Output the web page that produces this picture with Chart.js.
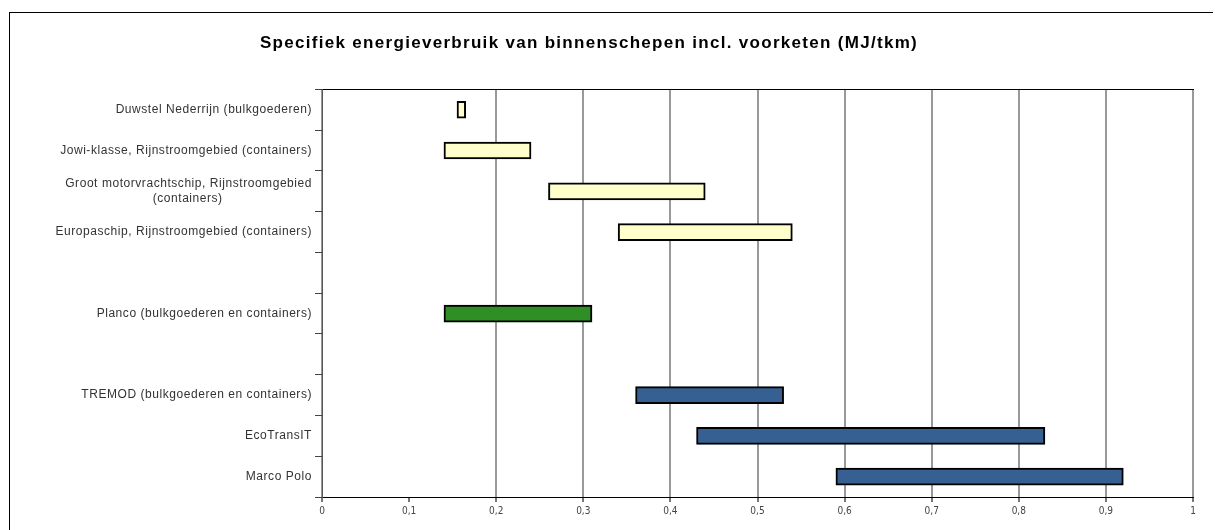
<!DOCTYPE html>
<html><head><meta charset="utf-8">
<script src="https://cdn.jsdelivr.net/npm/chart.js@4"></script>
<style>
html,body{margin:0;padding:0;background:#fff;}
#wrap{position:relative;width:1215px;height:530px;overflow:hidden;}
#frame{position:absolute;left:9px;top:12px;width:1203px;height:600px;border-top:1px solid #000;border-left:1px solid #000;pointer-events:none;}
canvas{position:absolute;left:0;top:0;}
</style></head><body>
<div id="wrap"><canvas id="c" width="1215" height="530"></canvas><div id="frame"></div></div>
<script>
const titleText = 'Specifiek energieverbruik van binnenschepen incl. voorketen (MJ/tkm)';
const categories = [
  'Duwstel Nederrijn (bulkgoederen)',
  'Jowi-klasse, Rijnstroomgebied (containers)',
  'Groot motorvrachtschip, Rijnstroomgebied\n(containers)',
  'Europaschip, Rijnstroomgebied (containers)',
  '',
  'Planco (bulkgoederen en containers)',
  '',
  'TREMOD (bulkgoederen en containers)',
  'EcoTransIT',
  'Marco Polo'
];
const lowValues  = [0.155, 0.14, 0.26, 0.34, null, 0.14, null, 0.36, 0.43, 0.59];
const highValues = [0.165, 0.24, 0.44, 0.54, null, 0.31, null, 0.53, 0.83, 0.92];
const groups     = ['schip', 'schip', 'schip', 'schip', null, 'planco', null, 'model', 'model', 'model'];
const groupColors = { schip: '#FFFFCC', planco: '#2F8F24', model: '#366092' };

const LABEL_SPACING = '0.55px';
const TITLE_SPACING = '1.3px';
const labelFont = '12px "Liberation Sans", Arial, sans-serif';
const mctx = document.createElement('canvas').getContext('2d');
mctx.font = labelFont;
mctx.letterSpacing = LABEL_SPACING;
function centerLines(label) {
  const lines = label.split('\n');
  if (lines.length < 2) return label;
  const widths = lines.map(l => mctx.measureText(l).width);
  const maxW = Math.max(...widths);
  const sp = mctx.measureText('\u00A0').width;
  return lines.map((l, i) => {
    const n = Math.round((maxW - widths[i]) / 2 / sp);
    return l + '\u00A0'.repeat(n);
  });
}

const barData = categories.map((c, i) => lowValues[i] == null ? null : [lowValues[i], highValues[i]]);
const barColors = groups.map(g => g ? groupColors[g] : 'rgba(0,0,0,0)');

const chart = new Chart(document.getElementById('c'), {
  type: 'bar',
  data: {
    labels: categories,
    datasets: [{
      data: barData,
      backgroundColor: barColors,
      borderColor: '#000',
      borderWidth: 2,
      borderSkipped: false,
      barThickness: 17,
      xAxisID: 'x',
      yAxisID: 'y'
    }]
  },
  options: {
    indexAxis: 'y',
    responsive: false,
    animation: false,
    devicePixelRatio: 1,
    layout: { padding: { left: 9, right: 22, top: 0, bottom: 0 } },
    plugins: {
      legend: { display: false },
      tooltip: { enabled: false },
      title: {
        display: true,
        text: titleText,
        color: '#000',
        font: { family: '"Liberation Sans", Arial, sans-serif', size: 17, weight: 'bold' },
        padding: { top: 33.5, bottom: 37.1 - 1.6 }
      }
    },
    scales: {
      x: {
        type: 'linear',
        position: 'bottom',
        min: 0, max: 1,
        ticks: {
          stepSize: 0.1,
          color: '#444',
          padding: 3,
          font: { family: '"Liberation Sans Narrow", "DejaVu Sans Condensed", sans-serif', size: 10 },
          callback: v => (Math.round(v * 10) / 10).toString().replace('.', ',')
        },
        grid: {
          color: ctx => (ctx.tick && Math.abs(ctx.tick.value - 0.1) < 1e-6) ? 'rgba(0,0,0,0)' : '#999',
          tickColor: '#777',
          lineWidth: 2,
          tickLength: 5
        },
        border: { color: '#000', width: 1 },
        afterFit: s => { s.height = 33; }
      },
      x2: {
        type: 'linear',
        position: 'top',
        min: 0, max: 1,
        ticks: { display: false },
        grid: { display: false },
        border: { display: true, color: '#000', width: 1 },
        afterFit: s => { s.height = 0; }
      },
      y: {
        type: 'category',
        offset: true,
        ticks: {
          autoSkip: false,
          color: '#333',
          padding: 3,
          font: { family: '"Liberation Sans", Arial, sans-serif', size: 12 },
          callback: function (v, i) { return centerLines(categories[i]); }
        },
        grid: { offset: true, drawOnChartArea: false, tickLength: 7, color: '#444' },
        border: { color: '#555', width: 1 },
        afterFit: s => { s.width = 313; }
      }
    }
  }
});

// letter spacing to mimic the original's wide text rendering
const tb = chart.titleBlock;
if (tb) {
  const origTitleDraw = tb.draw;
  tb.draw = function () {
    const c = this.ctx;
    c.save();
    c.translate(-12, 0);
    c.letterSpacing = TITLE_SPACING;
    origTitleDraw.apply(this, arguments);
    c.restore();
  };
}
const ys = chart.scales.y;
const origLabels = ys.drawLabels;
ys.drawLabels = function () {
  const c = this.ctx;
  c.save();
  c.letterSpacing = LABEL_SPACING;
  origLabels.apply(this, arguments);
  c.restore();
};
chart.draw();
</script>
</body></html>
